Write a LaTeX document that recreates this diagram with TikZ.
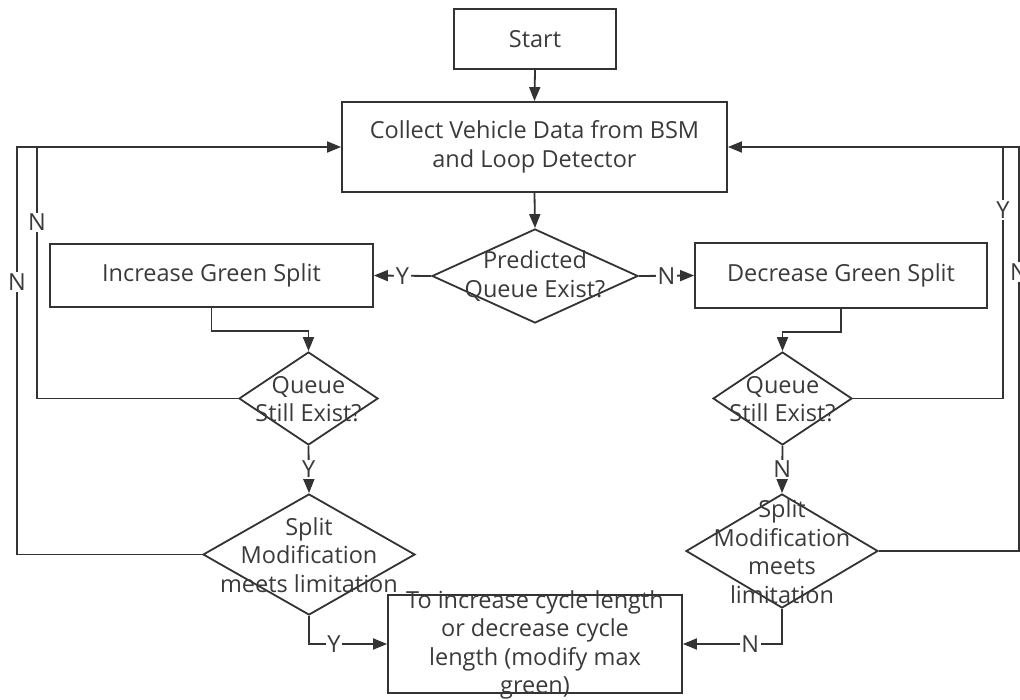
\documentclass[tikz,border=0pt]{standalone}
\usepackage{fontspec}
\setmainfont{Open Sans}
\usetikzlibrary{shapes.geometric,arrows.meta}
\definecolor{ln}{HTML}{333333}
\definecolor{tx}{HTML}{3A3A3A}
\begin{document}
\begin{tikzpicture}[x=1pt,y=-1pt,
  every node/.style={font=\fontsize{23.5}{28.5}\selectfont, text=tx},
  box/.style={draw=ln, line width=1.8pt, rectangle, inner sep=0pt, align=center},
  dia/.style={draw=ln, line width=1.8pt, diamond, inner sep=0pt},
  txt/.style={align=center, inner sep=0pt},
  con/.style={draw=ln, line width=1.8pt},
  arr/.style={con, -{Triangle[length=14pt,width=11pt]}},
  lbl/.style={fill=white, inner sep=1.5pt}
]
\useasboundingbox (0,0) rectangle (1020,700);

\node[box, minimum width=162pt, minimum height=60pt] (start) at (535,39) {Start};
\node[box, minimum width=385pt, minimum height=90pt] (collect) at (534.5,147) {Collect Vehicle Data from BSM\\and Loop Detector};
\node[dia, minimum width=206pt, minimum height=94pt] (pred) at (535,276) {};
\node[txt] (predt) at (535,276) {Predicted\\Queue Exist?};
\node[box, minimum width=323pt, minimum height=63pt] (inc) at (211.5,275.5) {Increase Green Split};
\node[box, minimum width=292pt, minimum height=65pt] (dec) at (841,275.5) {Decrease Green Split};
\node[dia, minimum width=139pt, minimum height=93pt] (q1) at (308.5,398.5) {};
\node[txt] (q1t) at (308.5,399) {Queue\\Still Exist?};
\node[dia, minimum width=139pt, minimum height=93pt] (q2) at (782.5,398.5) {};
\node[txt] (q2t) at (782.5,399) {Queue\\Still Exist?};
\node[dia, minimum width=212pt, minimum height=121pt] (s1) at (309,554.5) {};
\node[txt] (s1t) at (309,555) {Split\\Modification\\meets limitation};
\node[dia, minimum width=192pt, minimum height=114pt] (s2) at (782,551) {};
\node[txt] (s2t) at (782,551.5) {Split\\Modification\\meets\\limitation};
\node[box, minimum width=294pt, minimum height=98pt] (fin) at (535,644) {};
\node[txt] (fint) at (535,645) {To increase cycle length\\or decrease cycle\\length (modify max\\green)};

\coordinate (l1) at (37,147);
\coordinate (l2) at (17,147);
\coordinate (r1) at (1003,147);
\coordinate (r2) at (1019,147);

\draw[arr] (start.south) -- (collect.north);
\draw[arr] (collect.south) -- (pred.north);
\draw[arr] (pred.west) -- node[lbl] {Y} (inc.east);
\draw[arr] (pred.east) -- node[lbl] {N} (dec.west);
\draw[arr] (inc.south) -- ++(0,23) -| (q1.north);
\draw[arr] (dec.south) -- ++(0,23) -| (q2.north);
\draw[arr] (q1.south) -- node[lbl] {Y} (s1.north);
\draw[arr] (q2.south) -- node[lbl] {N} (s2.north);
\draw[arr] (s1.south) |- node[lbl, pos=0.66] {Y} (fin.west);
\draw[arr] (s2.south) |- node[lbl, pos=0.66] {N} (fin.east);
\draw[con] (q1.west) -| node[lbl, pos=0.85] {N} (l1);
\draw[arr] (l1) -- (collect.west);
\draw[con] (s1.west) -| node[lbl, pos=0.834] {N} (l2) -- (l1);
\draw[con] (q2.east) -| node[lbl, pos=0.875] {Y} (r1);
\draw[arr] (r1) -- (collect.east);
\draw[con] (s2.east) -| node[lbl, pos=0.845] {N} (r2) -- (r1);
\end{tikzpicture}
\end{document}
